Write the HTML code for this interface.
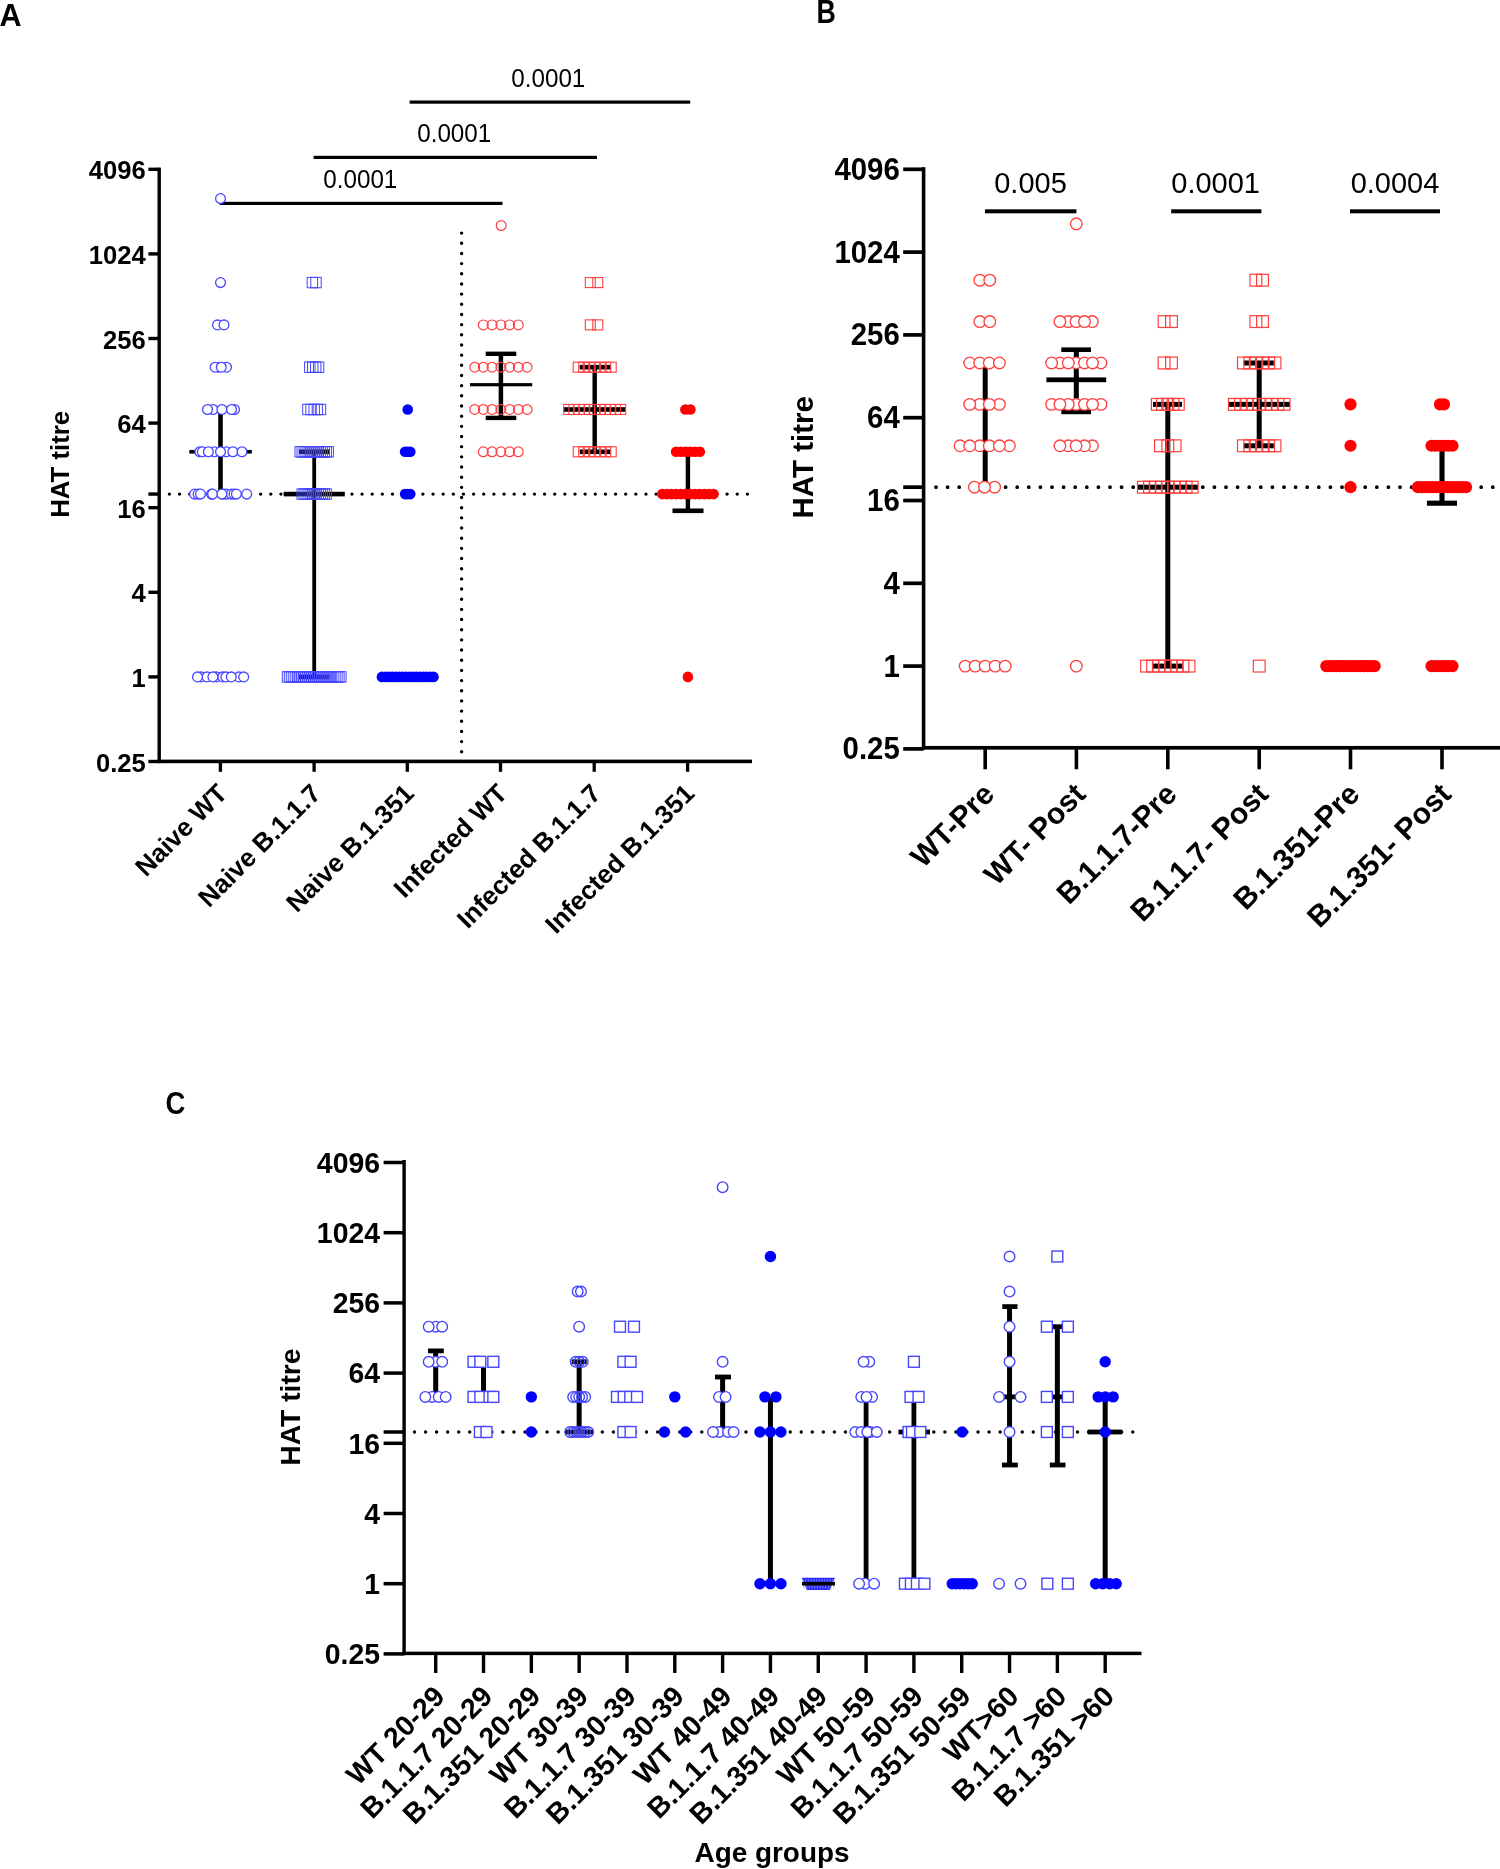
<!DOCTYPE html>
<html><head><meta charset="utf-8"><style>
html,body{margin:0;padding:0;background:#fff;}
svg{display:block;font-family:"Liberation Sans", sans-serif;filter:blur(0.45px);}
</style></head><body>
<svg width="1500" height="1869" viewBox="0 0 1500 1869">
<rect width="1500" height="1869" fill="#fff"/>
<text x="-0.6" y="26.3" font-size="30.5" font-weight="bold" text-anchor="start">A</text>
<text x="0" y="0" font-size="33.5" font-weight="bold" transform="translate(816.4 22.6) scale(0.8 1)">B</text>
<text x="0" y="0" font-size="32" font-weight="bold" transform="translate(165.4 1114.3) scale(0.86 1)">C</text>
<rect x="148.4" y="167.6" width="10.8" height="3.4" fill="#000"/>
<text x="145.8" y="179.3" font-size="25.6" font-weight="bold" text-anchor="end">4096</text>
<rect x="148.4" y="252.2" width="10.8" height="3.4" fill="#000"/>
<text x="145.8" y="263.9" font-size="25.6" font-weight="bold" text-anchor="end">1024</text>
<rect x="148.4" y="336.8" width="10.8" height="3.4" fill="#000"/>
<text x="145.8" y="348.5" font-size="25.6" font-weight="bold" text-anchor="end">256</text>
<rect x="148.4" y="421.4" width="10.8" height="3.4" fill="#000"/>
<text x="145.8" y="433.1" font-size="25.6" font-weight="bold" text-anchor="end">64</text>
<rect x="148.4" y="506" width="10.8" height="3.4" fill="#000"/>
<text x="145.8" y="517.7" font-size="25.6" font-weight="bold" text-anchor="end">16</text>
<rect x="148.4" y="590.6" width="10.8" height="3.4" fill="#000"/>
<text x="145.8" y="602.3" font-size="25.6" font-weight="bold" text-anchor="end">4</text>
<rect x="148.4" y="675.2" width="10.8" height="3.4" fill="#000"/>
<text x="145.8" y="686.9" font-size="25.6" font-weight="bold" text-anchor="end">1</text>
<rect x="148.4" y="759.8" width="10.8" height="3.4" fill="#000"/>
<text x="145.8" y="771.5" font-size="25.6" font-weight="bold" text-anchor="end">0.25</text>
<rect x="148.4" y="492.38" width="10.8" height="3.4" fill="#000"/>
<rect x="157.5" y="167.6" width="3.4" height="595.5" fill="#000"/>
<rect x="157.5" y="759.6" width="594.5" height="3.6" fill="#000"/>
<rect x="218.75" y="761.4" width="3.3" height="10.4" fill="#000"/>
<rect x="312.45" y="761.4" width="3.3" height="10.4" fill="#000"/>
<rect x="405.65" y="761.4" width="3.3" height="10.4" fill="#000"/>
<rect x="498.85" y="761.4" width="3.3" height="10.4" fill="#000"/>
<rect x="592.55" y="761.4" width="3.3" height="10.4" fill="#000"/>
<rect x="685.95" y="761.4" width="3.3" height="10.4" fill="#000"/>
<text x="0" y="0" font-size="26" font-weight="bold" text-anchor="end" transform="translate(228.7 795) rotate(-45)">Naive WT</text>
<text x="0" y="0" font-size="26" font-weight="bold" text-anchor="end" transform="translate(322.4 795) rotate(-45)">Naive B.1.1.7</text>
<text x="0" y="0" font-size="26" font-weight="bold" text-anchor="end" transform="translate(415.6 795) rotate(-45)">Naive B.1.351</text>
<text x="0" y="0" font-size="26" font-weight="bold" text-anchor="end" transform="translate(508.8 795) rotate(-45)">Infected WT</text>
<text x="0" y="0" font-size="26" font-weight="bold" text-anchor="end" transform="translate(602.5 795) rotate(-45)">Infected B.1.1.7</text>
<text x="0" y="0" font-size="26" font-weight="bold" text-anchor="end" transform="translate(695.9 795) rotate(-45)">Infected B.1.351</text>
<text x="0" y="0" font-size="25.8" font-weight="bold" text-anchor="middle" transform="translate(69 464.3) rotate(-90)">HAT titre</text>
<line x1="169.4" y1="494.08" x2="753" y2="494.08" stroke="#000" stroke-width="3.4" stroke-linecap="round" stroke-dasharray="0 10.14"/>
<line x1="461.6" y1="233.1" x2="461.6" y2="757" stroke="#000" stroke-width="3.4" stroke-linecap="round" stroke-dasharray="0 10.17"/>
<rect x="219.6" y="201.8" width="282.9" height="3.2" fill="#000"/>
<text x="0" y="0" font-size="24.2" font-weight="normal" text-anchor="middle" transform="translate(360.3 187.6) scale(1 1.07)">0.0001</text>
<rect x="313.6" y="155.8" width="283.4" height="3.2" fill="#000"/>
<text x="0" y="0" font-size="24.2" font-weight="normal" text-anchor="middle" transform="translate(454.2 141.6) scale(1 1.07)">0.0001</text>
<rect x="409.6" y="100.5" width="280.6" height="3.2" fill="#000"/>
<text x="0" y="0" font-size="24.2" font-weight="normal" text-anchor="middle" transform="translate(548.3 87) scale(1 1.07)">0.0001</text>
<rect x="218.2" y="409.48" width="4.6" height="84.6" fill="#000"/>
<rect x="189.3" y="449.98" width="62.5" height="3.6" fill="#000"/>
<g fill="#fff" stroke="#4646ff" stroke-width="1.3"><circle cx="220.5" cy="198.6" r="4.9"/><circle cx="220.5" cy="282.58" r="4.9"/><circle cx="217.5" cy="324.88" r="4.9"/><circle cx="224" cy="324.88" r="4.9"/><circle cx="218.5" cy="367.18" r="4.9"/><circle cx="215.1" cy="367.18" r="4.9"/><circle cx="226.5" cy="367.18" r="4.9"/><circle cx="221.3" cy="367.18" r="4.9"/><circle cx="213" cy="409.48" r="4.9"/><circle cx="234.5" cy="409.48" r="4.9"/><circle cx="207.5" cy="409.48" r="4.9"/><circle cx="221.9" cy="409.48" r="4.9"/><circle cx="231.5" cy="409.48" r="4.9"/><circle cx="199.8" cy="451.78" r="4.9"/><circle cx="202.3" cy="451.78" r="4.9"/><circle cx="214.5" cy="451.78" r="4.9"/><circle cx="226.1" cy="451.78" r="4.9"/><circle cx="208.4" cy="451.78" r="4.9"/><circle cx="220.5" cy="451.78" r="4.9"/><circle cx="232.9" cy="451.78" r="4.9"/><circle cx="242" cy="451.78" r="4.9"/><circle cx="194.6" cy="494.08" r="4.9"/><circle cx="198.1" cy="494.08" r="4.9"/><circle cx="211.5" cy="494.08" r="4.9"/><circle cx="223.8" cy="494.08" r="4.9"/><circle cx="226.6" cy="494.08" r="4.9"/><circle cx="231.3" cy="494.08" r="4.9"/><circle cx="234" cy="494.08" r="4.9"/><circle cx="236.4" cy="494.08" r="4.9"/><circle cx="200.5" cy="494.08" r="4.9"/><circle cx="212.6" cy="494.08" r="4.9"/><circle cx="221.9" cy="494.08" r="4.9"/><circle cx="246.7" cy="494.08" r="4.9"/><circle cx="201" cy="676.9" r="4.9"/><circle cx="207" cy="676.9" r="4.9"/><circle cx="216.2" cy="676.9" r="4.9"/><circle cx="222.7" cy="676.9" r="4.9"/><circle cx="225.9" cy="676.9" r="4.9"/><circle cx="238.9" cy="676.9" r="4.9"/><circle cx="243.7" cy="676.9" r="4.9"/><circle cx="197.5" cy="676.9" r="4.9"/><circle cx="212.9" cy="676.9" r="4.9"/><circle cx="231.3" cy="676.9" r="4.9"/></g>
<rect x="312.3" y="451.78" width="3.8" height="225.12" fill="#000"/>
<rect x="299" y="449.48" width="30.5" height="4.6" fill="#000"/>
<rect x="283.7" y="491.78" width="61.1" height="4.6" fill="#000"/>
<rect x="299" y="674.6" width="30.5" height="4.6" fill="#000"/>
<g fill="none" stroke="#4646ff" stroke-width="1"><rect x="307.2" y="277.38" width="10.4" height="10.4"/><rect x="310.8" y="277.38" width="10.4" height="10.4"/><rect x="304.6" y="361.98" width="10.4" height="10.4"/><rect x="307.53" y="361.98" width="10.4" height="10.4"/><rect x="310.47" y="361.98" width="10.4" height="10.4"/><rect x="313.4" y="361.98" width="10.4" height="10.4"/><rect x="302.7" y="404.28" width="10.4" height="10.4"/><rect x="305.85" y="404.28" width="10.4" height="10.4"/><rect x="309" y="404.28" width="10.4" height="10.4"/><rect x="312.15" y="404.28" width="10.4" height="10.4"/><rect x="315.3" y="404.28" width="10.4" height="10.4"/><rect x="295" y="446.58" width="10.4" height="10.4"/><rect x="297" y="446.58" width="10.4" height="10.4"/><rect x="299" y="446.58" width="10.4" height="10.4"/><rect x="301" y="446.58" width="10.4" height="10.4"/><rect x="303" y="446.58" width="10.4" height="10.4"/><rect x="305" y="446.58" width="10.4" height="10.4"/><rect x="307" y="446.58" width="10.4" height="10.4"/><rect x="309" y="446.58" width="10.4" height="10.4"/><rect x="311" y="446.58" width="10.4" height="10.4"/><rect x="313" y="446.58" width="10.4" height="10.4"/><rect x="315" y="446.58" width="10.4" height="10.4"/><rect x="317" y="446.58" width="10.4" height="10.4"/><rect x="319" y="446.58" width="10.4" height="10.4"/><rect x="321" y="446.58" width="10.4" height="10.4"/><rect x="323" y="446.58" width="10.4" height="10.4"/><rect x="297" y="488.88" width="10.4" height="10.4"/><rect x="299" y="488.88" width="10.4" height="10.4"/><rect x="301" y="488.88" width="10.4" height="10.4"/><rect x="303" y="488.88" width="10.4" height="10.4"/><rect x="305" y="488.88" width="10.4" height="10.4"/><rect x="307" y="488.88" width="10.4" height="10.4"/><rect x="309" y="488.88" width="10.4" height="10.4"/><rect x="311" y="488.88" width="10.4" height="10.4"/><rect x="313" y="488.88" width="10.4" height="10.4"/><rect x="315" y="488.88" width="10.4" height="10.4"/><rect x="317" y="488.88" width="10.4" height="10.4"/><rect x="319" y="488.88" width="10.4" height="10.4"/><rect x="321" y="488.88" width="10.4" height="10.4"/><rect x="282.3" y="671.7" width="10.4" height="10.4"/><rect x="284.28" y="671.7" width="10.4" height="10.4"/><rect x="286.26" y="671.7" width="10.4" height="10.4"/><rect x="288.23" y="671.7" width="10.4" height="10.4"/><rect x="290.21" y="671.7" width="10.4" height="10.4"/><rect x="292.19" y="671.7" width="10.4" height="10.4"/><rect x="294.17" y="671.7" width="10.4" height="10.4"/><rect x="296.14" y="671.7" width="10.4" height="10.4"/><rect x="298.12" y="671.7" width="10.4" height="10.4"/><rect x="300.1" y="671.7" width="10.4" height="10.4"/><rect x="302.08" y="671.7" width="10.4" height="10.4"/><rect x="304.06" y="671.7" width="10.4" height="10.4"/><rect x="306.03" y="671.7" width="10.4" height="10.4"/><rect x="308.01" y="671.7" width="10.4" height="10.4"/><rect x="309.99" y="671.7" width="10.4" height="10.4"/><rect x="311.97" y="671.7" width="10.4" height="10.4"/><rect x="313.94" y="671.7" width="10.4" height="10.4"/><rect x="315.92" y="671.7" width="10.4" height="10.4"/><rect x="317.9" y="671.7" width="10.4" height="10.4"/><rect x="319.88" y="671.7" width="10.4" height="10.4"/><rect x="321.86" y="671.7" width="10.4" height="10.4"/><rect x="323.83" y="671.7" width="10.4" height="10.4"/><rect x="325.81" y="671.7" width="10.4" height="10.4"/><rect x="327.79" y="671.7" width="10.4" height="10.4"/><rect x="329.77" y="671.7" width="10.4" height="10.4"/><rect x="331.74" y="671.7" width="10.4" height="10.4"/><rect x="333.72" y="671.7" width="10.4" height="10.4"/><rect x="335.7" y="671.7" width="10.4" height="10.4"/></g>
<g fill="#0000ff"><circle cx="407.7" cy="409.48" r="5.3"/><circle cx="405.1" cy="451.78" r="5.3"/><circle cx="407.7" cy="451.78" r="5.3"/><circle cx="410.3" cy="451.78" r="5.3"/><circle cx="405.1" cy="494.08" r="5.3"/><circle cx="407.7" cy="494.08" r="5.3"/><circle cx="410.3" cy="494.08" r="5.3"/><circle cx="381.9" cy="676.9" r="5.3"/><circle cx="385.34" cy="676.9" r="5.3"/><circle cx="388.78" cy="676.9" r="5.3"/><circle cx="392.22" cy="676.9" r="5.3"/><circle cx="395.66" cy="676.9" r="5.3"/><circle cx="399.1" cy="676.9" r="5.3"/><circle cx="402.54" cy="676.9" r="5.3"/><circle cx="405.98" cy="676.9" r="5.3"/><circle cx="409.42" cy="676.9" r="5.3"/><circle cx="412.86" cy="676.9" r="5.3"/><circle cx="416.3" cy="676.9" r="5.3"/><circle cx="419.74" cy="676.9" r="5.3"/><circle cx="423.18" cy="676.9" r="5.3"/><circle cx="426.62" cy="676.9" r="5.3"/><circle cx="430.06" cy="676.9" r="5.3"/><circle cx="433.5" cy="676.9" r="5.3"/></g>
<rect x="498.65" y="353.8" width="4.5" height="64.1" fill="#000"/>
<rect x="485.7" y="351.6" width="30.6" height="4.4" fill="#000"/>
<rect x="485.7" y="415.7" width="30.6" height="4.4" fill="#000"/>
<rect x="470" y="383.1" width="62.2" height="3.2" fill="#000"/>
<g fill="none" stroke="#ff4040" stroke-width="1.2"><circle cx="501.2" cy="225.5" r="4.9"/><circle cx="483.3" cy="324.88" r="4.9"/><circle cx="492.1" cy="324.88" r="4.9"/><circle cx="500.9" cy="324.88" r="4.9"/><circle cx="509.6" cy="324.88" r="4.9"/><circle cx="518.3" cy="324.88" r="4.9"/><circle cx="474.7" cy="367.18" r="4.9"/><circle cx="483.3" cy="367.18" r="4.9"/><circle cx="492.1" cy="367.18" r="4.9"/><circle cx="500.9" cy="367.18" r="4.9"/><circle cx="509.6" cy="367.18" r="4.9"/><circle cx="518.3" cy="367.18" r="4.9"/><circle cx="527.1" cy="367.18" r="4.9"/><circle cx="474.7" cy="409.48" r="4.9"/><circle cx="483.3" cy="409.48" r="4.9"/><circle cx="492.1" cy="409.48" r="4.9"/><circle cx="500.9" cy="409.48" r="4.9"/><circle cx="509.6" cy="409.48" r="4.9"/><circle cx="518.3" cy="409.48" r="4.9"/><circle cx="527.1" cy="409.48" r="4.9"/><circle cx="483.3" cy="451.78" r="4.9"/><circle cx="492.1" cy="451.78" r="4.9"/><circle cx="500.9" cy="451.78" r="4.9"/><circle cx="509.6" cy="451.78" r="4.9"/><circle cx="518.3" cy="451.78" r="4.9"/></g>
<rect x="592.5" y="367.18" width="4.4" height="84.6" fill="#000"/>
<rect x="579.7" y="364.88" width="31" height="4.6" fill="#000"/>
<rect x="579.7" y="449.48" width="31" height="4.6" fill="#000"/>
<rect x="563.7" y="407.18" width="61.9" height="4.6" fill="#000"/>
<g fill="none" stroke="#ff4040" stroke-width="1.1"><rect x="585.3" y="277.58" width="10" height="10"/><rect x="592.8" y="277.58" width="10" height="10"/><rect x="585.3" y="319.88" width="10" height="10"/><rect x="592.8" y="319.88" width="10" height="10"/><rect x="573.2" y="362.18" width="10" height="10"/><rect x="578.7" y="362.18" width="10" height="10"/><rect x="584.2" y="362.18" width="10" height="10"/><rect x="589.7" y="362.18" width="10" height="10"/><rect x="595.2" y="362.18" width="10" height="10"/><rect x="600.7" y="362.18" width="10" height="10"/><rect x="606.2" y="362.18" width="10" height="10"/><rect x="563.7" y="404.48" width="10" height="10"/><rect x="568.9" y="404.48" width="10" height="10"/><rect x="574.1" y="404.48" width="10" height="10"/><rect x="579.3" y="404.48" width="10" height="10"/><rect x="584.5" y="404.48" width="10" height="10"/><rect x="589.7" y="404.48" width="10" height="10"/><rect x="594.9" y="404.48" width="10" height="10"/><rect x="600.1" y="404.48" width="10" height="10"/><rect x="605.3" y="404.48" width="10" height="10"/><rect x="610.5" y="404.48" width="10" height="10"/><rect x="615.7" y="404.48" width="10" height="10"/><rect x="573.2" y="446.78" width="10" height="10"/><rect x="578.7" y="446.78" width="10" height="10"/><rect x="584.2" y="446.78" width="10" height="10"/><rect x="589.7" y="446.78" width="10" height="10"/><rect x="595.2" y="446.78" width="10" height="10"/><rect x="600.7" y="446.78" width="10" height="10"/><rect x="606.2" y="446.78" width="10" height="10"/></g>
<rect x="685.7" y="451.78" width="4.4" height="59.02" fill="#000"/>
<rect x="672.5" y="508.5" width="31" height="4.6" fill="#000"/>
<g fill="#ff0000"><circle cx="685.4" cy="409.48" r="5.3"/><circle cx="690.4" cy="409.48" r="5.3"/><circle cx="676.1" cy="451.78" r="5.3"/><circle cx="680.84" cy="451.78" r="5.3"/><circle cx="685.58" cy="451.78" r="5.3"/><circle cx="690.32" cy="451.78" r="5.3"/><circle cx="695.06" cy="451.78" r="5.3"/><circle cx="699.8" cy="451.78" r="5.3"/><circle cx="662.3" cy="494.08" r="5.3"/><circle cx="666.95" cy="494.08" r="5.3"/><circle cx="671.61" cy="494.08" r="5.3"/><circle cx="676.26" cy="494.08" r="5.3"/><circle cx="680.92" cy="494.08" r="5.3"/><circle cx="685.57" cy="494.08" r="5.3"/><circle cx="690.23" cy="494.08" r="5.3"/><circle cx="694.88" cy="494.08" r="5.3"/><circle cx="699.54" cy="494.08" r="5.3"/><circle cx="704.19" cy="494.08" r="5.3"/><circle cx="708.85" cy="494.08" r="5.3"/><circle cx="713.5" cy="494.08" r="5.3"/><circle cx="687.9" cy="676.9" r="5.3"/></g>
<rect x="903.2" y="167.45" width="20.4" height="3.7" fill="#000"/>
<text x="0" y="0" font-size="29.4" font-weight="bold" text-anchor="end" transform="translate(899.8 179.7) scale(1 1.04)">4096</text>
<rect x="903.2" y="250.25" width="20.4" height="3.7" fill="#000"/>
<text x="0" y="0" font-size="29.4" font-weight="bold" text-anchor="end" transform="translate(899.8 262.5) scale(1 1.04)">1024</text>
<rect x="903.2" y="333.05" width="20.4" height="3.7" fill="#000"/>
<text x="0" y="0" font-size="29.4" font-weight="bold" text-anchor="end" transform="translate(899.8 345.3) scale(1 1.04)">256</text>
<rect x="903.2" y="415.85" width="20.4" height="3.7" fill="#000"/>
<text x="0" y="0" font-size="29.4" font-weight="bold" text-anchor="end" transform="translate(899.8 428.1) scale(1 1.04)">64</text>
<rect x="903.2" y="498.65" width="20.4" height="3.7" fill="#000"/>
<text x="0" y="0" font-size="29.4" font-weight="bold" text-anchor="end" transform="translate(899.8 510.9) scale(1 1.04)">16</text>
<rect x="903.2" y="581.45" width="20.4" height="3.7" fill="#000"/>
<text x="0" y="0" font-size="29.4" font-weight="bold" text-anchor="end" transform="translate(899.8 593.7) scale(1 1.04)">4</text>
<rect x="903.2" y="664.25" width="20.4" height="3.7" fill="#000"/>
<text x="0" y="0" font-size="29.4" font-weight="bold" text-anchor="end" transform="translate(899.8 676.5) scale(1 1.04)">1</text>
<rect x="903.2" y="747.05" width="20.4" height="3.7" fill="#000"/>
<text x="0" y="0" font-size="29.4" font-weight="bold" text-anchor="end" transform="translate(899.8 759.3) scale(1 1.04)">0.25</text>
<rect x="903.2" y="485.32" width="20.4" height="3.7" fill="#000"/>
<rect x="921.8" y="167.2" width="3.6" height="582.4" fill="#000"/>
<rect x="921.8" y="745.95" width="578.2" height="3.7" fill="#000"/>
<rect x="983.4" y="747.8" width="3.6" height="21.5" fill="#000"/>
<rect x="1074.6" y="747.8" width="3.6" height="21.5" fill="#000"/>
<rect x="1166" y="747.8" width="3.6" height="21.5" fill="#000"/>
<rect x="1257.4" y="747.8" width="3.6" height="21.5" fill="#000"/>
<rect x="1348.7" y="747.8" width="3.6" height="21.5" fill="#000"/>
<rect x="1440.2" y="747.8" width="3.6" height="21.5" fill="#000"/>
<text x="0" y="0" font-size="30" font-weight="bold" text-anchor="end" transform="translate(996 796) rotate(-45)">WT-Pre</text>
<text x="0" y="0" font-size="30" font-weight="bold" text-anchor="end" transform="translate(1087.2 796) rotate(-45)">WT- Post</text>
<text x="0" y="0" font-size="30" font-weight="bold" text-anchor="end" transform="translate(1178.6 796) rotate(-45)">B.1.1.7-Pre</text>
<text x="0" y="0" font-size="30" font-weight="bold" text-anchor="end" transform="translate(1270 796) rotate(-45)">B.1.1.7- Post</text>
<text x="0" y="0" font-size="30" font-weight="bold" text-anchor="end" transform="translate(1361.3 796) rotate(-45)">B.1.351-Pre</text>
<text x="0" y="0" font-size="30" font-weight="bold" text-anchor="end" transform="translate(1452.8 796) rotate(-45)">B.1.351- Post</text>
<text x="0" y="0" font-size="29.5" font-weight="bold" text-anchor="middle" transform="translate(812.6 457.3) rotate(-90)">HAT titre</text>
<line x1="936" y1="487.17" x2="1500" y2="487.17" stroke="#000" stroke-width="3.8" stroke-linecap="round" stroke-dasharray="0 11.6"/>
<rect x="985" y="209.3" width="91.4" height="4" fill="#000"/>
<text x="0" y="0" font-size="29" font-weight="normal" text-anchor="middle" transform="translate(1030.5 193.4) scale(1 1.04)">0.005</text>
<rect x="1171.2" y="209.3" width="90.2" height="4" fill="#000"/>
<text x="0" y="0" font-size="29" font-weight="normal" text-anchor="middle" transform="translate(1215.6 193.4) scale(1 1.04)">0.0001</text>
<rect x="1350" y="209.3" width="90" height="4" fill="#000"/>
<text x="0" y="0" font-size="29" font-weight="normal" text-anchor="middle" transform="translate(1395 193.4) scale(1 1.04)">0.0004</text>
<rect x="982.7" y="367.3" width="5" height="114.7" fill="#000"/>
<g fill="#fff" stroke="#ff4040" stroke-width="1.35"><circle cx="979.8" cy="280.17" r="5.8"/><circle cx="989.8" cy="280.17" r="5.8"/><circle cx="979.8" cy="321.57" r="5.8"/><circle cx="989.8" cy="321.57" r="5.8"/><circle cx="969.7" cy="362.97" r="5.8"/><circle cx="979.7" cy="362.97" r="5.8"/><circle cx="989.3" cy="362.97" r="5.8"/><circle cx="999.4" cy="362.97" r="5.8"/><circle cx="979.7" cy="404.37" r="5.8"/><circle cx="999.4" cy="404.37" r="5.8"/><circle cx="969.7" cy="404.37" r="5.8"/><circle cx="989.3" cy="404.37" r="5.8"/><circle cx="979.7" cy="445.77" r="5.8"/><circle cx="960" cy="445.77" r="5.8"/><circle cx="1009.4" cy="445.77" r="5.8"/><circle cx="969.7" cy="445.77" r="5.8"/><circle cx="989.3" cy="445.77" r="5.8"/><circle cx="999.4" cy="445.77" r="5.8"/><circle cx="974.5" cy="487.17" r="5.8"/><circle cx="994.6" cy="487.17" r="5.8"/><circle cx="984.5" cy="487.17" r="5.8"/><circle cx="965.2" cy="666.1" r="5.8"/><circle cx="975.2" cy="666.1" r="5.8"/><circle cx="985.2" cy="666.1" r="5.8"/><circle cx="995.2" cy="666.1" r="5.8"/><circle cx="1005.2" cy="666.1" r="5.8"/></g>
<rect x="1073.8" y="349.7" width="5" height="62.2" fill="#000"/>
<rect x="1061.3" y="347.4" width="29.7" height="4.6" fill="#000"/>
<rect x="1061.3" y="409.6" width="29.7" height="4.6" fill="#000"/>
<rect x="1046.4" y="377.4" width="59.8" height="4.8" fill="#000"/>
<g fill="#fff" stroke="#ff4040" stroke-width="1.35"><circle cx="1076.3" cy="223.8" r="5.8"/><circle cx="1068.3" cy="321.57" r="5.8"/><circle cx="1092.3" cy="321.57" r="5.8"/><circle cx="1059.9" cy="321.57" r="5.8"/><circle cx="1076.1" cy="321.57" r="5.8"/><circle cx="1084.5" cy="321.57" r="5.8"/><circle cx="1059.9" cy="362.97" r="5.8"/><circle cx="1076.1" cy="362.97" r="5.8"/><circle cx="1101" cy="362.97" r="5.8"/><circle cx="1084.5" cy="362.97" r="5.8"/><circle cx="1051.6" cy="362.97" r="5.8"/><circle cx="1068.3" cy="362.97" r="5.8"/><circle cx="1092.5" cy="362.97" r="5.8"/><circle cx="1076.1" cy="404.37" r="5.8"/><circle cx="1051.6" cy="404.37" r="5.8"/><circle cx="1068.3" cy="404.37" r="5.8"/><circle cx="1084.5" cy="404.37" r="5.8"/><circle cx="1101" cy="404.37" r="5.8"/><circle cx="1059.9" cy="404.37" r="5.8"/><circle cx="1092.5" cy="404.37" r="5.8"/><circle cx="1068.3" cy="445.77" r="5.8"/><circle cx="1092.5" cy="445.77" r="5.8"/><circle cx="1084.5" cy="445.77" r="5.8"/><circle cx="1059.9" cy="445.77" r="5.8"/><circle cx="1076.1" cy="445.77" r="5.8"/><circle cx="1076.3" cy="666.1" r="5.8"/></g>
<rect x="1165.3" y="404.37" width="5" height="261.73" fill="#000"/>
<rect x="1153" y="401.87" width="29" height="5" fill="#000"/>
<rect x="1137" y="484.67" width="61" height="5" fill="#000"/>
<rect x="1152.4" y="663.6" width="30.4" height="5" fill="#000"/>
<g fill="none" stroke="#ff4040" stroke-width="1.2"><rect x="1158.2" y="315.67" width="11.8" height="11.8"/><rect x="1165.6" y="315.67" width="11.8" height="11.8"/><rect x="1158.2" y="357.07" width="11.8" height="11.8"/><rect x="1165.6" y="357.07" width="11.8" height="11.8"/><rect x="1151.4" y="398.47" width="11.8" height="11.8"/><rect x="1156.65" y="398.47" width="11.8" height="11.8"/><rect x="1161.9" y="398.47" width="11.8" height="11.8"/><rect x="1167.15" y="398.47" width="11.8" height="11.8"/><rect x="1172.4" y="398.47" width="11.8" height="11.8"/><rect x="1154.6" y="439.87" width="11.8" height="11.8"/><rect x="1161.9" y="439.87" width="11.8" height="11.8"/><rect x="1169.2" y="439.87" width="11.8" height="11.8"/><rect x="1137.5" y="481.27" width="11.8" height="11.8"/><rect x="1143.6" y="481.27" width="11.8" height="11.8"/><rect x="1149.7" y="481.27" width="11.8" height="11.8"/><rect x="1155.8" y="481.27" width="11.8" height="11.8"/><rect x="1161.9" y="481.27" width="11.8" height="11.8"/><rect x="1168" y="481.27" width="11.8" height="11.8"/><rect x="1174.1" y="481.27" width="11.8" height="11.8"/><rect x="1180.2" y="481.27" width="11.8" height="11.8"/><rect x="1186.3" y="481.27" width="11.8" height="11.8"/><rect x="1140.7" y="660.2" width="11.8" height="11.8"/><rect x="1146.76" y="660.2" width="11.8" height="11.8"/><rect x="1152.81" y="660.2" width="11.8" height="11.8"/><rect x="1158.87" y="660.2" width="11.8" height="11.8"/><rect x="1164.93" y="660.2" width="11.8" height="11.8"/><rect x="1170.99" y="660.2" width="11.8" height="11.8"/><rect x="1177.04" y="660.2" width="11.8" height="11.8"/><rect x="1183.1" y="660.2" width="11.8" height="11.8"/></g>
<rect x="1256.7" y="362.97" width="5" height="82.8" fill="#000"/>
<rect x="1244" y="360.47" width="29.8" height="5" fill="#000"/>
<rect x="1228" y="401.87" width="62" height="5" fill="#000"/>
<rect x="1244" y="443.27" width="29.8" height="5" fill="#000"/>
<g fill="none" stroke="#ff4040" stroke-width="1.2"><rect x="1250" y="274.27" width="11.8" height="11.8"/><rect x="1256.6" y="274.27" width="11.8" height="11.8"/><rect x="1250" y="315.67" width="11.8" height="11.8"/><rect x="1256.6" y="315.67" width="11.8" height="11.8"/><rect x="1237.5" y="357.07" width="11.8" height="11.8"/><rect x="1243.82" y="357.07" width="11.8" height="11.8"/><rect x="1250.14" y="357.07" width="11.8" height="11.8"/><rect x="1256.46" y="357.07" width="11.8" height="11.8"/><rect x="1262.78" y="357.07" width="11.8" height="11.8"/><rect x="1269.1" y="357.07" width="11.8" height="11.8"/><rect x="1228.4" y="398.47" width="11.8" height="11.8"/><rect x="1234.62" y="398.47" width="11.8" height="11.8"/><rect x="1240.85" y="398.47" width="11.8" height="11.8"/><rect x="1247.08" y="398.47" width="11.8" height="11.8"/><rect x="1253.3" y="398.47" width="11.8" height="11.8"/><rect x="1259.52" y="398.47" width="11.8" height="11.8"/><rect x="1265.75" y="398.47" width="11.8" height="11.8"/><rect x="1271.97" y="398.47" width="11.8" height="11.8"/><rect x="1278.2" y="398.47" width="11.8" height="11.8"/><rect x="1237.5" y="439.87" width="11.8" height="11.8"/><rect x="1243.82" y="439.87" width="11.8" height="11.8"/><rect x="1250.14" y="439.87" width="11.8" height="11.8"/><rect x="1256.46" y="439.87" width="11.8" height="11.8"/><rect x="1262.78" y="439.87" width="11.8" height="11.8"/><rect x="1269.1" y="439.87" width="11.8" height="11.8"/><rect x="1253.3" y="660.2" width="11.8" height="11.8"/></g>
<g fill="#ff0000"><circle cx="1350.5" cy="404.37" r="6.1"/><circle cx="1350.5" cy="445.77" r="6.1"/><circle cx="1350.5" cy="487.17" r="6.1"/><circle cx="1326.3" cy="666.1" r="6.1"/><circle cx="1329.76" cy="666.1" r="6.1"/><circle cx="1333.21" cy="666.1" r="6.1"/><circle cx="1336.67" cy="666.1" r="6.1"/><circle cx="1340.13" cy="666.1" r="6.1"/><circle cx="1343.59" cy="666.1" r="6.1"/><circle cx="1347.04" cy="666.1" r="6.1"/><circle cx="1350.5" cy="666.1" r="6.1"/><circle cx="1353.96" cy="666.1" r="6.1"/><circle cx="1357.41" cy="666.1" r="6.1"/><circle cx="1360.87" cy="666.1" r="6.1"/><circle cx="1364.33" cy="666.1" r="6.1"/><circle cx="1367.79" cy="666.1" r="6.1"/><circle cx="1371.24" cy="666.1" r="6.1"/><circle cx="1374.7" cy="666.1" r="6.1"/></g>
<rect x="1439.45" y="445.77" width="5.1" height="57.43" fill="#000"/>
<rect x="1426.9" y="500.65" width="30.1" height="5.1" fill="#000"/>
<g fill="#ff0000"><circle cx="1440" cy="404.37" r="6.1"/><circle cx="1444" cy="404.37" r="6.1"/><circle cx="1431.5" cy="445.77" r="6.1"/><circle cx="1435.7" cy="445.77" r="6.1"/><circle cx="1439.9" cy="445.77" r="6.1"/><circle cx="1444.1" cy="445.77" r="6.1"/><circle cx="1448.3" cy="445.77" r="6.1"/><circle cx="1452.5" cy="445.77" r="6.1"/><circle cx="1418" cy="487.17" r="6.1"/><circle cx="1421.69" cy="487.17" r="6.1"/><circle cx="1425.38" cy="487.17" r="6.1"/><circle cx="1429.08" cy="487.17" r="6.1"/><circle cx="1432.77" cy="487.17" r="6.1"/><circle cx="1436.46" cy="487.17" r="6.1"/><circle cx="1440.15" cy="487.17" r="6.1"/><circle cx="1443.85" cy="487.17" r="6.1"/><circle cx="1447.54" cy="487.17" r="6.1"/><circle cx="1451.23" cy="487.17" r="6.1"/><circle cx="1454.92" cy="487.17" r="6.1"/><circle cx="1458.62" cy="487.17" r="6.1"/><circle cx="1462.31" cy="487.17" r="6.1"/><circle cx="1466" cy="487.17" r="6.1"/><circle cx="1431.5" cy="666.1" r="6.1"/><circle cx="1435.7" cy="666.1" r="6.1"/><circle cx="1439.9" cy="666.1" r="6.1"/><circle cx="1444.1" cy="666.1" r="6.1"/><circle cx="1448.3" cy="666.1" r="6.1"/><circle cx="1452.5" cy="666.1" r="6.1"/></g>
<rect x="383.6" y="1160.75" width="20.5" height="3.5" fill="#000"/>
<text x="0" y="0" font-size="28.4" font-weight="bold" text-anchor="end" transform="translate(380 1172.7) scale(1 1.06)">4096</text>
<rect x="383.6" y="1230.95" width="20.5" height="3.5" fill="#000"/>
<text x="0" y="0" font-size="28.4" font-weight="bold" text-anchor="end" transform="translate(380 1242.9) scale(1 1.06)">1024</text>
<rect x="383.6" y="1301.15" width="20.5" height="3.5" fill="#000"/>
<text x="0" y="0" font-size="28.4" font-weight="bold" text-anchor="end" transform="translate(380 1313.1) scale(1 1.06)">256</text>
<rect x="383.6" y="1371.35" width="20.5" height="3.5" fill="#000"/>
<text x="0" y="0" font-size="28.4" font-weight="bold" text-anchor="end" transform="translate(380 1383.3) scale(1 1.06)">64</text>
<rect x="383.6" y="1441.55" width="20.5" height="3.5" fill="#000"/>
<text x="0" y="0" font-size="28.4" font-weight="bold" text-anchor="end" transform="translate(380 1453.5) scale(1 1.06)">16</text>
<rect x="383.6" y="1511.75" width="20.5" height="3.5" fill="#000"/>
<text x="0" y="0" font-size="28.4" font-weight="bold" text-anchor="end" transform="translate(380 1523.7) scale(1 1.06)">4</text>
<rect x="383.6" y="1581.95" width="20.5" height="3.5" fill="#000"/>
<text x="0" y="0" font-size="28.4" font-weight="bold" text-anchor="end" transform="translate(380 1593.9) scale(1 1.06)">1</text>
<rect x="383.6" y="1652.15" width="20.5" height="3.5" fill="#000"/>
<text x="0" y="0" font-size="28.4" font-weight="bold" text-anchor="end" transform="translate(380 1664.1) scale(1 1.06)">0.25</text>
<rect x="383.6" y="1430.25" width="20.5" height="3.5" fill="#000"/>
<rect x="402.4" y="1160" width="3.4" height="495.1" fill="#000"/>
<rect x="402.4" y="1651.65" width="739.1" height="3.5" fill="#000"/>
<rect x="434" y="1653.4" width="3.4" height="19.6" fill="#000"/>
<rect x="481.82" y="1653.4" width="3.4" height="19.6" fill="#000"/>
<rect x="529.64" y="1653.4" width="3.4" height="19.6" fill="#000"/>
<rect x="577.46" y="1653.4" width="3.4" height="19.6" fill="#000"/>
<rect x="625.28" y="1653.4" width="3.4" height="19.6" fill="#000"/>
<rect x="673.1" y="1653.4" width="3.4" height="19.6" fill="#000"/>
<rect x="720.92" y="1653.4" width="3.4" height="19.6" fill="#000"/>
<rect x="768.74" y="1653.4" width="3.4" height="19.6" fill="#000"/>
<rect x="816.56" y="1653.4" width="3.4" height="19.6" fill="#000"/>
<rect x="864.38" y="1653.4" width="3.4" height="19.6" fill="#000"/>
<rect x="912.2" y="1653.4" width="3.4" height="19.6" fill="#000"/>
<rect x="960.02" y="1653.4" width="3.4" height="19.6" fill="#000"/>
<rect x="1007.84" y="1653.4" width="3.4" height="19.6" fill="#000"/>
<rect x="1055.66" y="1653.4" width="3.4" height="19.6" fill="#000"/>
<rect x="1103.48" y="1653.4" width="3.4" height="19.6" fill="#000"/>
<text x="0" y="0" font-size="28.5" font-weight="bold" text-anchor="end" transform="translate(446.5 1698) rotate(-45)">WT 20-29</text>
<text x="0" y="0" font-size="28.5" font-weight="bold" text-anchor="end" transform="translate(494.32 1698) rotate(-45)">B.1.1.7 20-29</text>
<text x="0" y="0" font-size="28.5" font-weight="bold" text-anchor="end" transform="translate(542.14 1698) rotate(-45)">B.1.351 20-29</text>
<text x="0" y="0" font-size="28.5" font-weight="bold" text-anchor="end" transform="translate(589.96 1698) rotate(-45)">WT 30-39</text>
<text x="0" y="0" font-size="28.5" font-weight="bold" text-anchor="end" transform="translate(637.78 1698) rotate(-45)">B.1.1.7 30-39</text>
<text x="0" y="0" font-size="28.5" font-weight="bold" text-anchor="end" transform="translate(685.6 1698) rotate(-45)">B.1.351 30-39</text>
<text x="0" y="0" font-size="28.5" font-weight="bold" text-anchor="end" transform="translate(733.42 1698) rotate(-45)">WT 40-49</text>
<text x="0" y="0" font-size="28.5" font-weight="bold" text-anchor="end" transform="translate(781.24 1698) rotate(-45)">B.1.1.7 40-49</text>
<text x="0" y="0" font-size="28.5" font-weight="bold" text-anchor="end" transform="translate(829.06 1698) rotate(-45)">B.1.351 40-49</text>
<text x="0" y="0" font-size="28.5" font-weight="bold" text-anchor="end" transform="translate(876.88 1698) rotate(-45)">WT 50-59</text>
<text x="0" y="0" font-size="28.5" font-weight="bold" text-anchor="end" transform="translate(924.7 1698) rotate(-45)">B.1.1.7 50-59</text>
<text x="0" y="0" font-size="28.5" font-weight="bold" text-anchor="end" transform="translate(972.52 1698) rotate(-45)">B.1.351 50-59</text>
<text x="0" y="0" font-size="28.5" font-weight="bold" text-anchor="end" transform="translate(1020.34 1698) rotate(-45)">WT&gt;60</text>
<text x="0" y="0" font-size="28.5" font-weight="bold" text-anchor="end" transform="translate(1068.16 1698) rotate(-45)">B.1.1.7 &gt;60</text>
<text x="0" y="0" font-size="28.5" font-weight="bold" text-anchor="end" transform="translate(1115.98 1698) rotate(-45)">B.1.351 &gt;60</text>
<text x="0" y="0" font-size="28.3" font-weight="bold" text-anchor="middle" transform="translate(299.6 1407.1) rotate(-90)">HAT titre</text>
<text x="772" y="1862" font-size="27.9" font-weight="bold" text-anchor="middle">Age groups</text>
<line x1="414.5" y1="1432" x2="1141" y2="1432" stroke="#000" stroke-width="3.4" stroke-linecap="round" stroke-dasharray="0 11.05"/>
<rect x="433.2" y="1350.9" width="5" height="46" fill="#000"/>
<rect x="428" y="1348.5" width="15.8" height="4.8" fill="#000"/>
<g fill="#fff" stroke="#4646ff" stroke-width="1.4"><circle cx="435.7" cy="1326.7" r="5.3"/><circle cx="428.7" cy="1326.7" r="5.3"/><circle cx="442.2" cy="1326.7" r="5.3"/><circle cx="435.7" cy="1361.8" r="5.3"/><circle cx="428.7" cy="1361.8" r="5.3"/><circle cx="442.2" cy="1361.8" r="5.3"/><circle cx="432.1" cy="1396.9" r="5.3"/><circle cx="425.3" cy="1396.9" r="5.3"/><circle cx="438.7" cy="1396.9" r="5.3"/><circle cx="445.7" cy="1396.9" r="5.3"/></g>
<rect x="481.02" y="1361.8" width="5" height="35.1" fill="#000"/>
<g fill="#fff" stroke="#4646ff" stroke-width="1.4"><rect x="468.07" y="1356.35" width="10.9" height="10.9"/><rect x="474.87" y="1356.35" width="10.9" height="10.9"/><rect x="487.87" y="1356.35" width="10.9" height="10.9"/><rect x="468.07" y="1391.45" width="10.9" height="10.9"/><rect x="474.87" y="1391.45" width="10.9" height="10.9"/><rect x="484.07" y="1391.45" width="10.9" height="10.9"/><rect x="487.87" y="1391.45" width="10.9" height="10.9"/><rect x="474.47" y="1426.55" width="10.9" height="10.9"/><rect x="481.07" y="1426.55" width="10.9" height="10.9"/></g>
<g fill="#0000ff"><circle cx="531.34" cy="1396.9" r="5.7"/><circle cx="531.34" cy="1432" r="5.7"/></g>
<rect x="576.66" y="1361.8" width="5" height="70.2" fill="#000"/>
<rect x="571.66" y="1359.4" width="15" height="4.8" fill="#000"/>
<rect x="565.16" y="1429.6" width="28" height="4.8" fill="#000"/>
<g fill="none" stroke="#4646ff" stroke-width="1.4"><circle cx="577.66" cy="1291.6" r="5.3"/><circle cx="580.96" cy="1291.6" r="5.3"/><circle cx="579.16" cy="1326.7" r="5.3"/><circle cx="575.66" cy="1361.8" r="5.3"/><circle cx="579.16" cy="1361.8" r="5.3"/><circle cx="582.66" cy="1361.8" r="5.3"/><circle cx="573.16" cy="1396.9" r="5.3"/><circle cx="576.16" cy="1396.9" r="5.3"/><circle cx="579.16" cy="1396.9" r="5.3"/><circle cx="582.16" cy="1396.9" r="5.3"/><circle cx="585.16" cy="1396.9" r="5.3"/><circle cx="570.16" cy="1432" r="5.3"/><circle cx="573.16" cy="1432" r="5.3"/><circle cx="576.16" cy="1432" r="5.3"/><circle cx="579.16" cy="1432" r="5.3"/><circle cx="582.16" cy="1432" r="5.3"/><circle cx="585.16" cy="1432" r="5.3"/><circle cx="588.16" cy="1432" r="5.3"/></g>
<g fill="#fff" stroke="#4646ff" stroke-width="1.4"><rect x="614.53" y="1321.25" width="10.9" height="10.9"/><rect x="628.53" y="1321.25" width="10.9" height="10.9"/><rect x="617.93" y="1356.35" width="10.9" height="10.9"/><rect x="625.13" y="1356.35" width="10.9" height="10.9"/><rect x="611.53" y="1391.45" width="10.9" height="10.9"/><rect x="618.23" y="1391.45" width="10.9" height="10.9"/><rect x="624.83" y="1391.45" width="10.9" height="10.9"/><rect x="631.53" y="1391.45" width="10.9" height="10.9"/><rect x="617.93" y="1426.55" width="10.9" height="10.9"/><rect x="625.13" y="1426.55" width="10.9" height="10.9"/></g>
<g fill="#0000ff"><circle cx="674.8" cy="1396.9" r="5.7"/><circle cx="664.4" cy="1432" r="5.7"/><circle cx="685.6" cy="1432" r="5.7"/></g>
<rect x="720.12" y="1377" width="5" height="55" fill="#000"/>
<rect x="715" y="1374.6" width="16" height="4.8" fill="#000"/>
<g fill="#fff" stroke="#4646ff" stroke-width="1.4"><circle cx="722.62" cy="1187.2" r="5.3"/><circle cx="722.62" cy="1361.8" r="5.3"/><circle cx="719.02" cy="1396.9" r="5.3"/><circle cx="725.62" cy="1396.9" r="5.3"/><circle cx="719.02" cy="1432" r="5.3"/><circle cx="713.02" cy="1432" r="5.3"/><circle cx="728.02" cy="1432" r="5.3"/><circle cx="733.62" cy="1432" r="5.3"/></g>
<rect x="767.94" y="1396.9" width="5" height="186.8" fill="#000"/>
<g fill="#0000ff"><circle cx="770.44" cy="1256.5" r="5.7"/><circle cx="764.94" cy="1396.9" r="5.7"/><circle cx="775.94" cy="1396.9" r="5.7"/><circle cx="759.94" cy="1432" r="5.7"/><circle cx="770.44" cy="1432" r="5.7"/><circle cx="780.94" cy="1432" r="5.7"/><circle cx="759.94" cy="1583.7" r="5.7"/><circle cx="770.44" cy="1583.7" r="5.7"/><circle cx="780.94" cy="1583.7" r="5.7"/></g>
<path d="M801.8 1577.7L835 1577.7L829.8 1590L806.8 1590Z" fill="#2a2aff"/>
<path d="M803 1579.2L804.2 1588.7" stroke="#9a9aff" stroke-width="0.7"/>
<path d="M805.7 1579.2L806.9 1588.7" stroke="#9a9aff" stroke-width="0.7"/>
<path d="M808.4 1579.2L809.6 1588.7" stroke="#9a9aff" stroke-width="0.7"/>
<path d="M811.1 1579.2L812.3 1588.7" stroke="#9a9aff" stroke-width="0.7"/>
<path d="M813.8 1579.2L815 1588.7" stroke="#9a9aff" stroke-width="0.7"/>
<path d="M816.5 1579.2L817.7 1588.7" stroke="#9a9aff" stroke-width="0.7"/>
<path d="M819.2 1579.2L820.4 1588.7" stroke="#9a9aff" stroke-width="0.7"/>
<path d="M821.9 1579.2L823.1 1588.7" stroke="#9a9aff" stroke-width="0.7"/>
<path d="M824.6 1579.2L825.8 1588.7" stroke="#9a9aff" stroke-width="0.7"/>
<path d="M827.3 1579.2L828.5 1588.7" stroke="#9a9aff" stroke-width="0.7"/>
<path d="M830 1579.2L831.2 1588.7" stroke="#9a9aff" stroke-width="0.7"/>
<path d="M832.7 1579.2L833.9 1588.7" stroke="#9a9aff" stroke-width="0.7"/>
<rect x="802" y="1581.9" width="33" height="3.6" fill="#000"/>
<rect x="863.68" y="1396.9" width="4.8" height="186.8" fill="#000"/>
<g fill="#fff" stroke="#4646ff" stroke-width="1.4"><circle cx="869.28" cy="1361.8" r="5.3"/><circle cx="863.58" cy="1361.8" r="5.3"/><circle cx="861.28" cy="1396.9" r="5.3"/><circle cx="872.08" cy="1396.9" r="5.3"/><circle cx="866.48" cy="1396.9" r="5.3"/><circle cx="855.28" cy="1432" r="5.3"/><circle cx="870.28" cy="1432" r="5.3"/><circle cx="861.28" cy="1432" r="5.3"/><circle cx="867.28" cy="1432" r="5.3"/><circle cx="876.78" cy="1432" r="5.3"/><circle cx="865.08" cy="1583.7" r="5.3"/><circle cx="859.08" cy="1583.7" r="5.3"/><circle cx="874.08" cy="1583.7" r="5.3"/></g>
<rect x="911.5" y="1396.9" width="4.8" height="186.8" fill="#000"/>
<rect x="898.5" y="1429.6" width="31.5" height="4.8" fill="#000"/>
<g fill="#fff" stroke="#4646ff" stroke-width="1.4"><rect x="908.45" y="1356.35" width="10.9" height="10.9"/><rect x="905.05" y="1391.45" width="10.9" height="10.9"/><rect x="913.05" y="1391.45" width="10.9" height="10.9"/><rect x="903.05" y="1426.55" width="10.9" height="10.9"/><rect x="906.55" y="1426.55" width="10.9" height="10.9"/><rect x="914.85" y="1426.55" width="10.9" height="10.9"/><rect x="899.45" y="1578.25" width="10.9" height="10.9"/><rect x="905.45" y="1578.25" width="10.9" height="10.9"/><rect x="911.45" y="1578.25" width="10.9" height="10.9"/><rect x="918.95" y="1578.25" width="10.9" height="10.9"/></g>
<g fill="#0000ff"><circle cx="962.12" cy="1432" r="5.7"/><circle cx="952.22" cy="1583.7" r="5.7"/><circle cx="956.22" cy="1583.7" r="5.7"/><circle cx="960.22" cy="1583.7" r="5.7"/><circle cx="964.22" cy="1583.7" r="5.7"/><circle cx="968.22" cy="1583.7" r="5.7"/><circle cx="972.22" cy="1583.7" r="5.7"/></g>
<rect x="1007.04" y="1306.6" width="5" height="158.4" fill="#000"/>
<rect x="1002.3" y="1304.2" width="15.2" height="4.8" fill="#000"/>
<rect x="1002" y="1462.6" width="15.8" height="4.8" fill="#000"/>
<rect x="1000" y="1394.5" width="19" height="4.8" fill="#000"/>
<g fill="#fff" stroke="#4646ff" stroke-width="1.4"><circle cx="1009.54" cy="1256.5" r="5.3"/><circle cx="1009.54" cy="1291.6" r="5.3"/><circle cx="1009.54" cy="1326.7" r="5.3"/><circle cx="1009.54" cy="1361.8" r="5.3"/><circle cx="999.04" cy="1396.9" r="5.3"/><circle cx="1020.54" cy="1396.9" r="5.3"/><circle cx="1009.54" cy="1432" r="5.3"/><circle cx="999.04" cy="1583.7" r="5.3"/><circle cx="1020.54" cy="1583.7" r="5.3"/></g>
<rect x="1054.86" y="1326.7" width="5" height="138.3" fill="#000"/>
<rect x="1049.8" y="1462.6" width="15.7" height="4.8" fill="#000"/>
<rect x="1049" y="1324.3" width="16" height="4.8" fill="#000"/>
<rect x="1049" y="1394.5" width="16" height="4.8" fill="#000"/>
<g fill="#fff" stroke="#4646ff" stroke-width="1.4"><rect x="1051.91" y="1251.05" width="10.9" height="10.9"/><rect x="1041.41" y="1321.25" width="10.9" height="10.9"/><rect x="1062.41" y="1321.25" width="10.9" height="10.9"/><rect x="1041.41" y="1391.45" width="10.9" height="10.9"/><rect x="1062.41" y="1391.45" width="10.9" height="10.9"/><rect x="1041.41" y="1426.55" width="10.9" height="10.9"/><rect x="1062.41" y="1426.55" width="10.9" height="10.9"/><rect x="1041.91" y="1578.25" width="10.9" height="10.9"/><rect x="1062.41" y="1578.25" width="10.9" height="10.9"/></g>
<rect x="1102.68" y="1396.9" width="5" height="186.8" fill="#000"/>
<rect x="1087.7" y="1429.6" width="34.5" height="4.8" fill="#000"/>
<g fill="#0000ff"><circle cx="1105.18" cy="1361.8" r="5.7"/><circle cx="1098.18" cy="1396.9" r="5.7"/><circle cx="1105.18" cy="1396.9" r="5.7"/><circle cx="1113.18" cy="1396.9" r="5.7"/><circle cx="1105.18" cy="1432" r="5.7"/><circle cx="1095.68" cy="1583.7" r="5.7"/><circle cx="1102.68" cy="1583.7" r="5.7"/><circle cx="1109.68" cy="1583.7" r="5.7"/><circle cx="1116.18" cy="1583.7" r="5.7"/></g>
</svg>
</body></html>
